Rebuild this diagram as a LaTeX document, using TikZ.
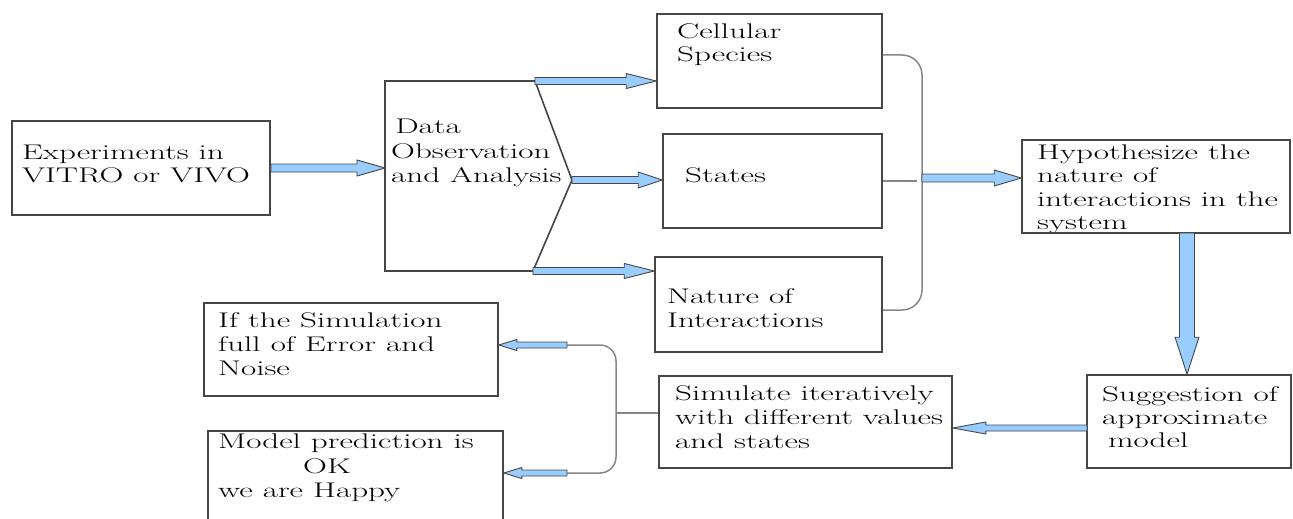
\documentclass[tikz,border=0pt]{standalone}
\usetikzlibrary{calc}
\definecolor{arrowblue}{RGB}{153,204,255}
\definecolor{edgegray}{RGB}{70,70,70}
\definecolor{wiregray}{RGB}{135,135,135}
\newcommand\boxtext[1]{\scalebox{1.56}[1]{\begin{tabular}{@{}l@{}}#1\end{tabular}}}
\tikzset{
  box/.style={draw=edgegray, line width=1.6pt, inner sep=0pt},
  txt/.style={anchor=north west, inner sep=0pt},
  barrow/.style={fill=arrowblue, draw=edgegray, line width=0.9pt, line join=miter},
  wireline/.style={draw=wiregray, line width=1.5pt},
}
% #1 from, #2 to, #3 shaft half width, #4 head half width, #5 head length
\newcommand\blockarrow[5]{%
  \coordinate (baS) at (#1);
  \coordinate (baE) at (#2);
  \coordinate (baH) at ($(baE)!#5!(baS)$);
  \filldraw[barrow] ($(baS)!#3!90:(baE)$) -- ($(baH)!#3!-90:(baS)$)
     -- ($(baH)!#4!-90:(baS)$) -- (baE) -- ($(baH)!#4!90:(baS)$)
     -- ($(baH)!#3!90:(baS)$) -- ($(baS)!#3!-90:(baE)$) -- cycle;
}
\begin{document}
\fontsize{21.2}{23.5}\selectfont
\begin{tikzpicture}[x=1pt,y=-1pt]
\useasboundingbox (0,0) rectangle (1293,519);

% texts
\node[txt] (exptxt) at (22,142.5) {\boxtext{Experiments in\\VITRO or VIVO}};
\node[txt] (data) at (391,116.5) {\renewcommand\arraystretch{1.04}\boxtext{\hspace{2.6pt}Data\\Observation\\and Analysis}};
\node[txt] (celltxt) at (677,21.5) {\boxtext{Cellular\\Species}};
\node[txt] (statestxt) at (685,165.5) {\boxtext{States}};
\node[txt] (nattxt) at (667,286.5) {\renewcommand\arraystretch{1.02}\boxtext{Nature of\\Interactions}};
\node[txt] (hyptxt) at (1037,142.5) {\boxtext{Hypothesize the\\nature of\\interactions in the\\system}};
\node[txt] (suggtxt) at (1102,385.5) {\renewcommand\arraystretch{0.98}\boxtext{Suggestion of\\approximate\\\hspace{3.8pt}model}};
\node[txt] (simtxt) at (675,383.5) {\renewcommand\arraystretch{1.02}\boxtext{Simulate iteratively\\with different values\\and states}};
\node[txt] (errtxt) at (218,310.5) {\renewcommand\arraystretch{1.02}\boxtext{If the Simulation\\full of Error and\\Noise}};
\node[txt] (happytxt) at (218,430.5) {\renewcommand\arraystretch{1.06}\boxtext{Model prediction is\\\hspace{54.5pt}OK\\we are Happy}};

% boxes
\node[box, minimum width=258pt, minimum height=94pt] (exp) at (141,168) {};
\node[box, minimum width=225pt, minimum height=94pt] (cell) at (769.5,61) {};
\node[box, minimum width=219pt, minimum height=94pt] (states) at (772.5,181) {};
\node[box, minimum width=227pt, minimum height=95pt] (nat) at (768.5,304.5) {};
\node[box, minimum width=268pt, minimum height=93pt] (hyp) at (1156,186.5) {};
\node[box, minimum width=204pt, minimum height=93pt] (sugg) at (1189,421.5) {};
\node[box, minimum width=293pt, minimum height=92pt] (sim) at (805.5,422) {};
\node[box, minimum width=294pt, minimum height=93pt] (err) at (351,349.5) {};
\begin{scope}
\clip (0,0) rectangle (1293,519);
\node[box, minimum width=295pt, minimum height=94pt] (happy) at (355.5,478) {};
\end{scope}

% data shape
\coordinate (dtl) at (385,81);
\coordinate (dtr) at (535,81);
\coordinate (dtip) at (572,180);
\coordinate (dbr) at (533,271);
\coordinate (dbl) at (385,271);
\draw[draw=edgegray, line width=1.6pt, line join=miter] (dtl) -- (dtr) -- (dtip) -- (dbr) -- (dbl) -- cycle;
\coordinate (din) at (385,168);

% bracket joining the three boxes
\coordinate (brtop) at (922,55);
\coordinate (brbot) at (922,310);
\coordinate (brmid) at (922,178);
\coordinate (stubend) at (917,181);
\draw[wireline, rounded corners=20pt] (cell.east |- brtop) -- (brtop) -- (brbot) -- (nat.east |- brbot);
\draw[wireline] (states.east) -- (stubend);

% back bracket to outcomes
\coordinate (bbmid) at (616,413);
\coordinate (bbtop) at (616,345);
\coordinate (bbbot) at (616,473);
\coordinate (etail) at (567,345);
\coordinate (htail) at (567,473);
\draw[wireline] (sim.west |- bbmid) -- (bbmid);
\draw[wireline, rounded corners=16pt] (etail) -- (bbtop) -- (bbbot) -- (htail);

% arrows
\blockarrow{exp.east}{din}{4pt}{8pt}{28pt}
\blockarrow{dtr}{cell.west |- dtr}{3.5pt}{7.5pt}{30pt}
\blockarrow{dtip}{states.west |- dtip}{3.5pt}{8pt}{24pt}
\blockarrow{dbr}{nat.west |- dbr}{3.5pt}{7.5pt}{30pt}
\blockarrow{brmid}{hyp.west |- brmid}{4pt}{8pt}{27pt}
\coordinate (dtop) at (1187,233);
\blockarrow{dtop}{sugg.north -| dtop}{7.5pt}{12pt}{37pt}
\coordinate (stail) at (1087,428);
\blockarrow{stail}{sim.east |- stail}{3pt}{6pt}{33pt}
\blockarrow{etail}{err.east |- etail}{3pt}{5.5pt}{18pt}
\blockarrow{htail}{happy.east |- htail}{3pt}{5.5pt}{18pt}
\end{tikzpicture}
\end{document}
